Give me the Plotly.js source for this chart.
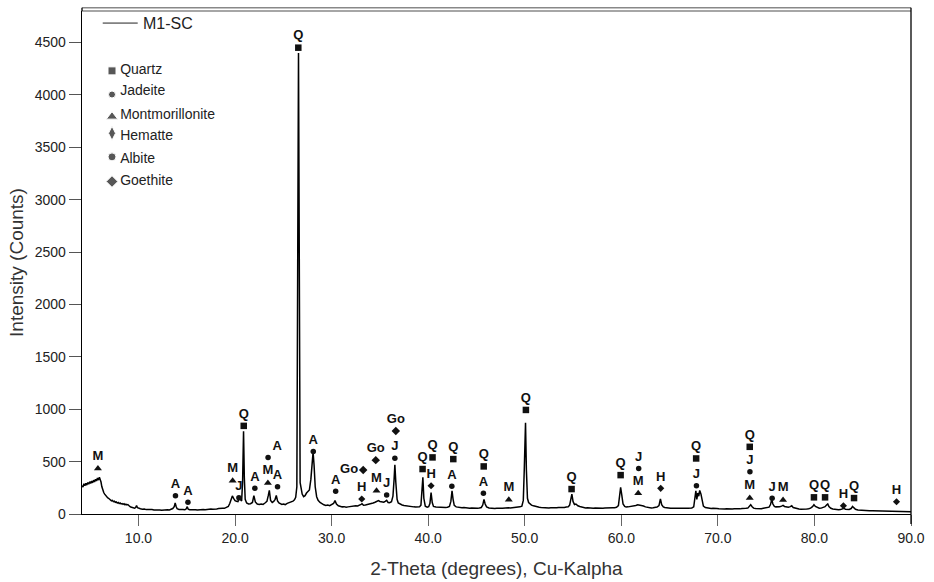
<!DOCTYPE html>
<html>
<head>
<meta charset="utf-8">
<script src="https://cdn.plot.ly/plotly-3.0.1.min.js"></script>
<style>html,body{margin:0;padding:0;background:#fff;}#chart{width:934px;height:582px;}</style>
</head>
<body>
<div id="chart"></div>
<script>
// XRD pattern of sample M1-SC: [2-theta, counts]
const patternA = [
 [4.15,270],[4.25,258],[4.35,288],[4.45,270],[4.55,293],[4.65,276],[4.75,300],[4.85,284],[4.95,308],[5.05,292],
 [5.15,315],[5.25,298],[5.35,323],[5.45,306],[5.55,331],[5.65,316],[5.75,343],[5.85,324],[5.95,350],[6.05,330],
 [6.12,305],[6.2,262],[6.3,228],[6.4,205],[6.5,190],[6.6,176],[6.7,170],[6.8,155],[6.9,150],[7.0,140],
 [7.1,138],[7.2,126],[7.3,130],[7.4,118],[7.5,122],[7.6,112],[7.7,116],[7.8,104],[7.9,110],[8.0,100],
 [8.1,106],[8.2,96],[8.3,100],[8.4,92],[8.5,98],[8.6,88],[8.7,94],[8.8,86],[8.9,90],[9.0,78],
 [9.1,72],[9.2,66],[9.3,62],[9.4,58],[9.5,60],[9.6,55],[9.7,62],[9.8,80],[9.9,60],[10.0,54],
 [10.2,50],[10.4,46],[10.6,48],[10.8,42],[11.0,44],[11.2,40],[11.4,42],[11.6,38],[11.8,40],[12.0,36],
 [12.2,38],[12.4,35],[12.6,38],[12.8,36],[13.0,40],[13.2,38],[13.4,44],[13.55,52],[13.7,70],[13.8,105],
 [13.9,72],[14.0,50],[14.2,44],[14.4,40],[14.6,42],[14.8,40],[14.95,50],[15.05,70],[15.15,46],[15.3,40],
 [15.5,42],[15.7,38],[15.9,41],[16.1,38],[16.3,42],[16.5,40],[16.7,44],[16.9,41],[17.1,45],[17.3,43],
 [17.5,47],[17.7,45],[17.9,50],[18.1,48],[18.3,52],[18.5,50],[18.7,55],[18.9,54],[19.1,60],[19.3,72],
 [19.45,100],[19.6,150],[19.72,172],[19.85,150]
];
const patternB = [
 [20.0,128],[20.15,122],[20.3,118],[20.45,150],[20.55,135],[20.68,125],[20.78,300],[20.88,790],[20.96,350],[21.05,140],
 [21.2,105],[21.4,96],[21.6,98],[21.8,110],[21.95,175],[22.1,115],[22.3,95],[22.5,90],[22.7,96],[22.9,92],
 [23.1,105],[23.3,120],[23.45,180],[23.55,225],[23.68,130],[23.85,110],[24.0,120],[24.15,140],[24.27,178],[24.4,125],
 [24.55,105],[24.7,100],[24.85,92],[25.0,96],[25.2,90],[25.4,102],[25.6,108],[25.8,115],[26.0,122],[26.15,135],
 [26.28,160],[26.4,260],[26.57,4400],[26.74,300],[26.84,262],[26.95,190],[27.1,165],[27.25,175],[27.4,200],[27.55,215],
 [27.7,230],[27.85,330],[27.98,520],[28.08,590],[28.18,470],[28.3,260],[28.45,165],[28.6,130],[28.8,110],[29.0,95],
 [29.2,88],[29.4,82],[29.6,85],[29.8,80],[30.0,88],[30.2,100],[30.35,128],[30.5,95],[30.7,78],[30.9,72],
 [31.1,68],[31.3,70],[31.5,64],[31.7,68],[31.9,72],[32.1,70],[32.3,75],[32.5,78],[32.7,76],[32.9,82],
 [33.05,92],[33.15,98],[33.3,84],[33.5,86],[33.7,90],[33.9,92],[34.1,98],[34.3,105],[34.5,112],[34.7,122],
 [34.85,128],[35.0,120],[35.2,118],[35.4,112],[35.55,120],[35.7,130],[35.85,110],[36.0,108],[36.2,118],[36.35,170],
 [36.47,330],[36.55,470],[36.65,300],[36.78,140],[36.9,105],[37.1,92],[37.3,86],[37.5,82],[37.7,78],[37.9,76],
 [38.1,72],[38.3,70],[38.5,68],[38.7,66],[38.9,64],[39.1,68],[39.25,85],[39.35,200],[39.45,350],[39.55,150],
 [39.7,75],[39.9,66]
];
const patternC = [
 [40.05,70],[40.18,100],[40.3,205],[40.42,110],[40.55,72],[40.8,66],[41.0,64],[41.2,62],[41.4,64],[41.6,60],
 [41.8,62],[42.0,64],[42.2,72],[42.35,120],[42.47,222],[42.58,140],[42.7,82],[42.9,68],[43.1,64],[43.3,62],
 [43.5,60],[43.7,62],[43.9,58],[44.1,60],[44.3,56],[44.5,58],[44.7,55],[44.9,57],[45.1,55],[45.3,58],
 [45.5,62],[45.65,85],[45.78,140],[45.9,95],[46.05,68],[46.3,58],[46.5,55],[46.7,54],[46.9,52],[47.1,55],
 [47.3,52],[47.5,56],[47.7,54],[47.9,58],[48.1,56],[48.3,60],[48.5,58],[48.7,60],[48.9,58],[49.1,62],
 [49.3,64],[49.5,68],[49.7,75],[49.85,130],[49.95,420],[50.08,870],[50.17,420],[50.28,150],[50.4,110],[50.55,95],
 [50.7,85],[50.9,78],[51.1,72],[51.3,68],[51.5,64],[51.7,62],[51.9,60],[52.1,58],[52.3,60],[52.5,57],
 [52.7,60],[52.9,58],[53.1,62],[53.3,60],[53.5,63],[53.7,61],[53.9,64],[54.1,62],[54.3,66],[54.5,68],
 [54.65,85],[54.78,150],[54.88,190],[55.0,120],[55.15,90],[55.3,95],[55.5,78],[55.7,72],[55.9,65],[56.1,62],
 [56.3,58],[56.5,60],[56.7,56],[56.9,58],[57.1,55],[57.3,57],[57.5,55],[57.7,58],[57.9,56],[58.1,55],
 [58.3,57],[58.5,56],[58.7,58],[58.9,57],[59.1,60],[59.3,60],[59.5,64],[59.7,80],[59.82,170],[59.93,255]
];
const patternD = [
 [60.05,180],[60.18,95],[60.35,72],[60.5,66],[60.7,68],[60.9,70],[61.1,72],[61.3,78],[61.5,82],[61.7,88],
 [61.9,86],[62.1,84],[62.3,76],[62.5,68],[62.7,64],[62.9,60],[63.1,58],[63.3,60],[63.5,62],[63.7,66],
 [63.9,80],[64.05,145],[64.18,90],[64.35,68],[64.5,62],[64.7,58],[64.9,56],[65.1,55],[65.3,54],[65.5,55],
 [65.7,52],[65.9,54],[66.1,52],[66.3,55],[66.5,53],[66.7,55],[66.9,54],[67.1,56],[67.3,58],[67.5,68],
 [67.62,150],[67.72,222],[67.82,140],[67.92,200],[68.02,170],[68.12,225],[68.25,190],[68.38,110],[68.5,75],[68.7,62],
 [68.9,58],[69.1,55],[69.3,52],[69.5,54],[69.7,50],[69.9,52],[70.1,50],[70.3,48],[70.5,50],[70.7,48],
 [70.9,50],[71.1,47],[71.3,50],[71.5,48],[71.7,50],[71.9,48],[72.1,50],[72.3,49],[72.5,52],[72.7,50],
 [72.9,54],[73.1,56],[73.25,68],[73.4,88],[73.55,70],[73.7,56],[73.9,52],[74.1,50],[74.3,52],[74.5,50],
 [74.7,54],[74.9,56],[75.1,60],[75.3,65],[75.45,90],[75.58,140],[75.7,95],[75.85,72],[76.0,68],[76.2,66],
 [76.4,70],[76.6,75],[76.75,82],[76.9,72],[77.1,65],[77.3,64],[77.5,70],[77.65,78],[77.8,62],[78.0,55],
 [78.2,52],[78.4,48],[78.6,46],[78.8,45],[79.0,46],[79.2,48],[79.4,50],[79.6,56],[79.8,70],[79.95,88],
 [80.1,72],[80.3,60],[80.5,55],[80.7,56],[80.9,60],[81.1,70],[81.25,85],[81.38,95],[81.5,72],[81.7,55],
 [81.9,48],[82.1,44],[82.3,42],[82.5,40],[82.7,42],[82.9,48],[83.05,55],[83.2,46],[83.4,42],[83.6,44],
 [83.8,52],[83.95,72],[84.1,58],[84.25,45],[84.5,38],[84.7,36],[84.9,35],[85.1,34],[85.4,33],[85.7,32],
 [86.0,31],[86.3,30],[86.6,30],[86.9,29],[87.2,28],[87.5,28],[87.8,27],[88.1,27],[88.4,26],[88.7,25],
 [89.0,25],[89.3,24],[89.6,23],[90.0,22]
];

// Phase identifications: peak position (2-theta) and marker height (counts)
const quartzX = [20.9, 26.55, 39.42, 40.45, 42.6, 45.75, 50.12, 54.85, 59.93, 67.75, 73.3, 79.95, 81.1, 84.1];
const quartzY = [841, 4450, 429, 540, 524, 454, 993, 238, 371, 530, 641, 159, 159, 152];
const jadeiteX = [20.4, 35.7, 36.55, 61.8, 67.78, 73.32, 75.62];
const jadeiteY = [155, 181, 533, 435, 270, 403, 150];
const montX = [5.8, 19.75, 23.4, 34.65, 48.35, 61.75, 73.3, 76.75];
const montY = [435, 318, 295, 222, 136, 197, 152, 133];
const hemX = [33.12, 40.3, 64.08, 83.0, 88.5];
const hemY = [143, 270, 245, 79, 117];
const albiteX = [13.83, 15.12, 22.05, 23.42, 24.4, 28.1, 30.42, 42.45, 45.72];
const albiteY = [174, 111, 245, 540, 260, 597, 216, 264, 197];
const goethiteX = [33.27, 34.57, 36.65];
const goethiteY = [419, 514, 793];

const xTicks = [10, 20, 30, 40, 50, 60, 70, 80, 90];
const xTickText = ["10.0", "20.0", "30.0", "40.0", "50.0", "60.0", "70.0", "80.0", "90.0"];

const legendNames = ["Quartz", "Jadeite", "Montmorillonite", "Hematte", "Albite", "Goethite"];
const legendSymbols = ["square", "circle", "triangle-up", "diamond-tall", "circle", "diamond"];
const legendSizes = [8, 7, 10, 10, 8, 9];
const legendMarkerY = [0.881, 0.834, 0.790, 0.757, 0.710, 0.661];
const legendTextY = [0.881, 0.840, 0.793, 0.750, 0.705, 0.661];

const pattern = patternA.concat(patternB, patternC, patternD);
const twoTheta = pattern.map(p => p[0]);
const counts = pattern.map(p => p[1]);

const labFont = {family: "Liberation Sans Narrow, Arial Narrow, Liberation Sans, Arial", size: 13, color: "#111", weight: "bold"};

function phase(xs, ys, label, symbol, size, positions) {
  return {
    type: "scatter", mode: "markers+text", x: xs, y: ys,
    text: xs.map(() => label),
    textposition: positions || "top center",
    textfont: labFont,
    marker: {symbol: symbol, size: size, color: "#111"},
    cliponaxis: false, showlegend: false, hoverinfo: "skip"
  };
}

const traces = [
  {type: "scatter", mode: "lines", x: twoTheta, y: counts, line: {color: "#000", width: 1.5}, showlegend: false},
  phase(quartzX, quartzY, "Q", "square", 6.5),
  phase(jadeiteX, jadeiteY, "J", "circle", 5.5),
  phase(montX, montY, "M", "triangle-up", 7),
  phase(hemX, hemY, "H", "diamond", 5.5),
  phase(albiteX, albiteY, "A", "circle", 5.5, ["top center","top center","top center","top right","top center","top center","top center","top center","top center"]),
  phase(goethiteX, goethiteY, "Go", "diamond", 6.5, ["middle left","top center","top center"]),
  // legend of phases, drawn on an overlay axis spanning the plot area
  {type: "scatter", mode: "markers", x: legendNames.map(() => 0.0362), y: legendMarkerY, xaxis: "x2", yaxis: "y2",
   marker: {symbol: legendSymbols, size: legendSizes, color: "#111"}, showlegend: false, hoverinfo: "skip"},
  {type: "scatter", mode: "text", x: legendNames.map(() => 0.046), y: legendTextY, xaxis: "x2", yaxis: "y2",
   text: legendNames, textposition: "middle right",
   textfont: {family: "Liberation Sans, Arial", size: 14, color: "#222"}, showlegend: false, hoverinfo: "skip"},
  {type: "scatter", mode: "lines", x: [0.025, 0.0672], y: [0.976, 0.976], xaxis: "x2", yaxis: "y2",
   line: {color: "#222", width: 1}, showlegend: false, hoverinfo: "skip"}
];

const tickFont = {family: "Liberation Sans, Arial", size: 14, color: "#222"};

const layout = {
  width: 934, height: 582,
  margin: {l: 82, r: 23, t: 11, b: 68},
  paper_bgcolor: "#fff", plot_bgcolor: "#fff",
  showlegend: false,
  xaxis: {
    range: [4.15, 90], tickvals: xTicks, ticktext: xTickText,
    ticks: "outside", ticklen: 11, tickcolor: "#666", tickwidth: 1,
    showline: true, linecolor: "#000", linewidth: 1.3, showgrid: false, zeroline: false,
    tickfont: tickFont, automargin: false,
    title: {text: "2-Theta (degrees), Cu-Kalpha", font: {family: "Liberation Sans, Arial", size: 19, color: "#333"}, standoff: 16}
  },
  yaxis: {
    range: [0, 4800], dtick: 500, tick0: 0,
    ticks: "outside", ticklen: 12, tickcolor: "#555", tickwidth: 1,
    showline: true, linecolor: "#000", linewidth: 1.3, showgrid: false, zeroline: false,
    tickfont: tickFont, automargin: false,
    title: {text: "Intensity (Counts)", font: {family: "Liberation Sans, Arial", size: 19, color: "#333"}, standoff: 6}
  },
  xaxis2: {range: [0, 1], overlaying: "x", visible: false, fixedrange: true},
  yaxis2: {range: [0, 1], overlaying: "y", visible: false, fixedrange: true},
  shapes: [
    {type: "line", xref: "paper", yref: "paper", x0: 0, x1: 1, y0: 1, y1: 1, line: {color: "#888", width: 1.5}},
    {type: "line", xref: "paper", yref: "paper", x0: 0, x1: 1, y0: 1.0065, y1: 1.0065, line: {color: "#888", width: 1.5}},
    {type: "line", xref: "paper", yref: "paper", x0: 1, x1: 1, y0: -0.02, y1: 1.0065, line: {color: "#000", width: 1.3}},
    {type: "line", xref: "paper", yref: "paper", x0: 0, x1: 0, y0: 1, y1: 1.0065, line: {color: "#000", width: 1.3}}
  ],
  annotations: [
    {xref: "paper", yref: "paper", x: 0.071, y: 0.976, xanchor: "left", yanchor: "middle", showarrow: false,
     text: "M1-SC", font: {family: "Liberation Sans, Arial", size: 16, color: "#222"}}
  ]
};

Plotly.newPlot("chart", traces, layout, {staticPlot: true, displayModeBar: false});
</script>
</body>
</html>
